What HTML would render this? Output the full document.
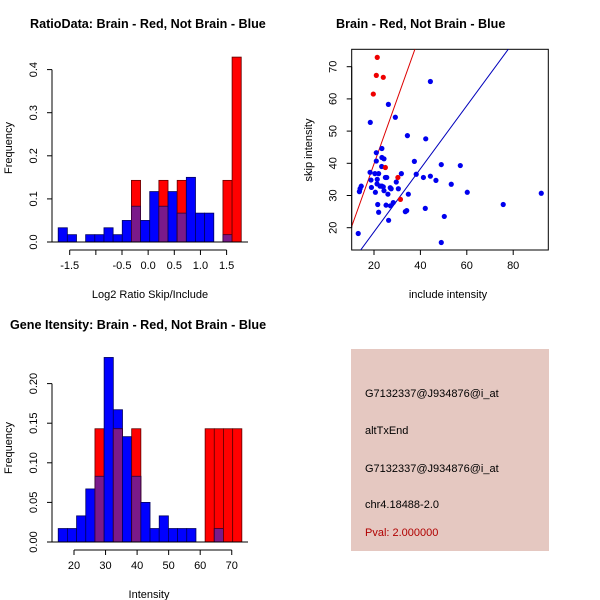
<!DOCTYPE html>
<html><head><meta charset="utf-8"><style>
html,body{margin:0;padding:0;background:#fff;}
svg{display:block;font-family:"Liberation Sans",Arial,sans-serif;}
</style></head><body>
<svg id="s" width="600" height="600" xmlns="http://www.w3.org/2000/svg">
<text x="30" y="28" font-size="12.6" font-weight="bold">RatioData: Brain - Red, Not Brain - Blue</text>
<text x="336" y="28" font-size="12.6" font-weight="bold">Brain - Red, Not Brain - Blue</text>
<text x="10" y="329" font-size="12.6" font-weight="bold">Gene Itensity: Brain - Red, Not Brain - Blue</text>
<text x="150" y="298" font-size="11" text-anchor="middle">Log2 Ratio Skip/Include</text>
<text x="448" y="298" font-size="11" text-anchor="middle">include intensity</text>
<text x="149" y="598" font-size="11" text-anchor="middle">Intensity</text>
<text transform="translate(12,148) rotate(-90)" font-size="11" text-anchor="middle">Frequency</text>
<text transform="translate(312,150) rotate(-90)" font-size="11" text-anchor="middle">skip intensity</text>
<text transform="translate(12,448) rotate(-90)" font-size="11" text-anchor="middle">Frequency</text>
<g>
<rect x="351" y="349" width="198" height="202" fill="#e5c8c1"/>
<text x="365" y="397" font-size="11">G7132337@J934876@i_at</text>
<text x="365" y="434" font-size="11">altTxEnd</text>
<text x="365" y="472" font-size="11">G7132337@J934876@i_at</text>
<text x="365" y="508" font-size="11">chr4.18488-2.0</text>
<text x="365" y="536" font-size="11" fill="#b00000">Pval: 2.000000</text>
</g>
</svg>
<script>
// Ratio histogram data (20 bins starting -1.72, width 0.175)
const ratioBlue=[0.033,0.017,0,0.017,0.017,0.033,0.017,0.05,0.083,0.05,0.117,0.083,0.117,0.067,0.15,0.067,0.067,0,0.017,0];
const ratioRed=[0,0,0,0,0,0,0,0,0.143,0,0,0.143,0,0.143,0,0,0,0,0.143,0.429];
const ratioXTicks=[-1.5,-1,-0.5,0,0.5,1,1.5];
const ratioXLabels=["-1.5","","-0.5","0.0","0.5","1.0","1.5"];
const ratioYTicks=[0,0.1,0.2,0.3,0.4];
// Intensity histogram data (20 bins starting 15, width 2.91)
const intBlue=[0.017,0.017,0.033,0.067,0.083,0.233,0.167,0.133,0.083,0.05,0.017,0.033,0.017,0.017,0.017,0,0,0.017,0,0];
const intRed=[0,0,0,0,0.143,0,0.143,0,0.143,0,0,0,0,0,0,0,0.143,0.143,0.143,0.143];
const intXTicks=[20,30,40,50,60,70];
const intYTicks=[0,0.05,0.1,0.15,0.2];
// Scatter data
const redX=[21.4,21.0,24.0,19.7,24.9,30.3,31.4];
const redY=[72.9,67.3,66.7,61.5,38.7,35.6,28.8];
const blueX=[13.2,14.5,14.0,13.7,18.4,18.3,18.7,18.9,20.6,21.0,21.0,20.4,21.4,21.3,22.0,21.6,22.0,22.6,23.4,23.3,23.4,24.3,24.0,23.4,24.3,24.9,25.5,25.2,26.0,26.2,26.3,27.0,27.4,27.1,28.3,29.2,29.6,30.5,31.8,33.5,34.1,34.4,34.8,37.4,38.2,41.3,42.3,42.1,44.3,44.3,46.7,49.0,49.0,50.3,53.3,57.2,60.2,75.7,92.1];
const blueY=[18.2,32.9,32.1,31.2,52.7,37.2,34.8,32.5,31.0,40.7,43.3,36.8,35.0,33.6,36.8,27.2,24.8,32.9,44.6,39.0,41.8,41.4,32.7,32.9,31.5,35.6,35.6,27.0,30.4,58.3,22.3,32.4,32.1,26.8,27.8,54.3,34.2,32.1,36.8,25.0,25.3,48.6,30.4,40.6,36.6,35.6,47.6,26.0,65.4,36.0,34.7,39.6,15.4,23.5,33.5,39.3,31.0,27.2,30.7];
const scXTicks=[20,40,60,80];
const scYTicks=[20,30,40,50,60,70];
const redLine=[2.02,-0.6]; // slope, intercept
const blueLine=[0.98,-0.9];

const S=document.getElementById('s');
const NS='http://www.w3.org/2000/svg';
function mk(tag,attrs){const e=document.createElementNS(NS,tag);for(const k in attrs)e.setAttribute(k,attrs[k]);S.appendChild(e);return e;}

function hist(blue,red,start,width,sx,sy,base,pre){
  for(let i=0;i<blue.length;i++){
    const x0=sx(start+i*width),x1=sx(start+(i+1)*width);
    if(blue[i]>0){const r=mk('rect',{x:x0,y:sy(blue[i]),width:x1-x0,height:base-sy(blue[i]),fill:'#0000ff',stroke:'#000060','stroke-width':0.8});
      
      }
    if(red[i]>0){const r=mk('rect',{x:x0,y:sy(red[i]),width:x1-x0,height:base-sy(red[i]),fill:'#ff0000',stroke:'#600000','stroke-width':0.8});
      
      }
    if(red[i]>0&&blue[i]>0){const m=Math.min(red[i],blue[i]);const r=mk('rect',{x:x0,y:sy(m),width:x1-x0,height:base-sy(m),fill:'#7a1a8a',stroke:'#300030','stroke-width':0.8});
      
      }
  }
}
function yaxis(ticks,labels,x,sy,pre){
  const l=mk('line',{x1:x,x2:x,y1:sy(ticks[0]),y2:sy(ticks[ticks.length-1]),stroke:'#000'});
  
  
  ticks.forEach((t,i)=>{mk('line',{x1:x-5,x2:x,y1:sy(t),y2:sy(t),stroke:'#000'});
    const tx=mk('text',{transform:`translate(${x-15},${sy(t)}) rotate(-90)`,'font-size':11,'text-anchor':'middle'});
    tx.textContent=labels[i];
    
    });
}
function xaxis(ticks,labels,y,sx,pre){
  const l=mk('line',{x1:sx(ticks[0]),x2:sx(ticks[ticks.length-1]),y1:y,y2:y,stroke:'#000'});
  
  
  ticks.forEach((t,i)=>{mk('line',{x1:sx(t),x2:sx(t),y1:y,y2:y+5,stroke:'#000'});
    const tx=mk('text',{x:sx(t),y:y+19,'font-size':11,'text-anchor':'middle'});
    tx.textContent=labels[i];
    
    });
}

// Ratio histogram
const rsx=v=>69.7+(v+1.5)*52.3, rsy=v=>242-v*431;
hist(ratioBlue,ratioRed,-1.72,0.175,rsx,rsy,242,'ratio');
let bl=mk('line',{x1:52,x2:248,y1:242,y2:242,stroke:'#000'});


yaxis(ratioYTicks,ratioYTicks.map(v=>v.toFixed(1)),52,rsy,'ratio');
xaxis(ratioXTicks,ratioXLabels,250,rsx,'ratio');

// Intensity histogram
const isx=v=>74+(v-20)*3.155, isy=v=>542-v*792;
hist(intBlue,intRed,15,2.91,isx,isy,542,'intensity');
bl=mk('line',{x1:52,x2:248,y1:542,y2:542,stroke:'#000'});


yaxis(intYTicks,intYTicks.map(v=>v.toFixed(2)),52,isy,'intensity');
xaxis(intXTicks,intXTicks.map(String),550,isx,'intensity');

// Scatter
const ssx=v=>374+(v-20)*2.32, ssy=v=>66.7-(v-70)*3.22;
const box=mk('rect',{x:351.7,y:49.3,width:196.6,height:200.7,fill:'none',stroke:'#000'});


const cp=mk('clipPath',{id:'cp'});S.removeChild(cp);
const cr=document.createElementNS(NS,'rect');cr.setAttribute('x',351.7);cr.setAttribute('y',49.3);cr.setAttribute('width',196.6);cr.setAttribute('height',200.7);cp.appendChild(cr);
const defs=mk('defs',{});defs.appendChild(cp);
function abline(p,col,name){const x0=10.4,x1=95.1;
  const l=mk('line',{x1:ssx(x0),y1:ssy(p[0]*x0+p[1]),x2:ssx(x1),y2:ssy(p[0]*x1+p[1]),stroke:col,'clip-path':'url(#cp)'});
  
  }
abline(redLine,'#dd0000','red-fit-line');
abline(blueLine,'#0000bb','blue-fit-line');
blueX.forEach((x,i)=>{const c=mk('circle',{cx:ssx(x),cy:ssy(blueY[i]),r:2.6,fill:'#0000ee'});
  
  });
redX.forEach((x,i)=>{const c=mk('circle',{cx:ssx(x),cy:ssy(redY[i]),r:2.6,fill:'#ee0000'});
  
  });
yaxis(scYTicks,scYTicks.map(String),351.7,ssy,'scatter');
xaxis(scXTicks,scXTicks.map(String),250,ssx,'scatter');
</script>
</body></html>
